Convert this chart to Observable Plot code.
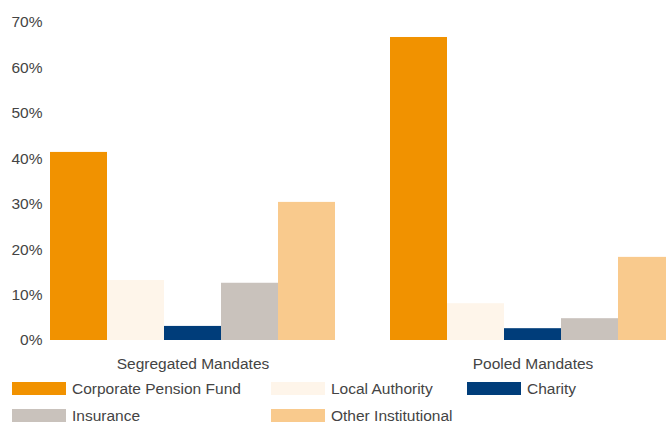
<!DOCTYPE html>
<html>
<head>
<meta charset="utf-8">
<script src="https://cdn.jsdelivr.net/npm/d3@7"></script>
<script src="https://cdn.jsdelivr.net/npm/@observablehq/plot@0.6"></script>
<style>
  html, body { margin: 0; padding: 0; background: #fff; overflow: hidden; width: 666px; height: 424px; }
  #chart { position: relative; width: 666px; overflow: hidden; }
  #chart svg { max-width: none !important; }
  .legend { display: grid; grid-template-columns: 259px 196px 180px; grid-auto-rows: 27px; padding-left: 12px;
            font-family: "Liberation Sans", Arial, sans-serif; font-size: 15.5px; color: #444; }
  .legend .item { display: flex; align-items: center; }
  .legend .sw { width: 54px; height: 13px; margin-right: 6px; flex: none; }
</style>
</head>
<body>
<div id="chart"></div>
<script>
const mandates = ["Segregated Mandates", "Pooled Mandates"];
const types = ["Corporate Pension Fund", "Local Authority", "Charity", "Insurance", "Other Institutional"];
const segregated = [41.4, 13.2, 3.1, 12.6, 30.4];
const pooled = [66.7, 8.1, 2.6, 4.8, 18.3];
const colors = ["#F19200", "#FEF5EA", "#003D7A", "#C9C2BC", "#F9CA8D"];
const yTicks = [0, 10, 20, 30, 40, 50, 60, 70];

const data = [];
types.forEach((t, i) => {
  data.push({mandate: mandates[0], type: t, value: segregated[i]});
  data.push({mandate: mandates[1], type: t, value: pooled[i]});
});

const plot = Plot.plot({
  width: 677,
  height: 375,
  marginLeft: 48,
  marginRight: 0,
  marginTop: 22,
  marginBottom: 35,
  style: {fontFamily: "'Liberation Sans', Arial, sans-serif", fontSize: "15.5px", color: "#444", background: "#fff", maxWidth: "none"},
  fx: {domain: mandates, paddingInner: 0.15, paddingOuter: 0, label: null},
  x: {domain: types, padding: 0, axis: null},
  y: {domain: [0, 70], label: null},
  color: {domain: types, range: colors},
  marks: [
    Plot.barY(data, {fx: "mandate", x: "type", y: "value", fill: "type"}),
    Plot.axisY({ticks: yTicks, tickSize: 0, tickPadding: 6, tickFormat: d => d + "%", label: null, fill: "#444"}),
    Plot.axisFx({anchor: "bottom", tickSize: 0, tickPadding: 17, label: null, fill: "#444"})
  ]
});
document.getElementById("chart").appendChild(plot);

const legend = document.createElement("div");
legend.className = "legend";
types.forEach((t, i) => {
  const item = document.createElement("div");
  item.className = "item";
  const sw = document.createElement("span");
  sw.className = "sw";
  sw.style.background = colors[i];
  const label = document.createElement("span");
  label.textContent = t;
  item.appendChild(sw);
  item.appendChild(label);
  legend.appendChild(item);
});
document.getElementById("chart").appendChild(legend);
</script>
</body>
</html>
